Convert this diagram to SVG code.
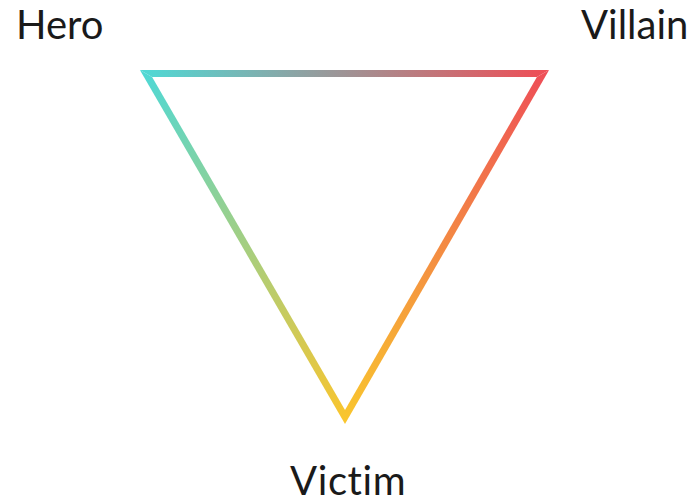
<svg xmlns="http://www.w3.org/2000/svg" width="696" height="504" viewBox="0 0 696 504">
<style>
.lbl{font-family:Lato,"Open Sans","Liberation Sans",sans-serif;font-size:40px;fill:#1a1a1a;font-variant-ligatures:none;font-feature-settings:"liga" 0;}
</style>
<defs>
<linearGradient id="gTop" gradientUnits="userSpaceOnUse" x1="146" y1="73" x2="543" y2="73">
<stop offset="0" stop-color="#50d8d4"/><stop offset="1" stop-color="#ee4f57"/>
</linearGradient>
<linearGradient id="gLeft" gradientUnits="userSpaceOnUse" x1="146" y1="73" x2="345" y2="417">
<stop offset="0" stop-color="#50d8d4"/><stop offset="1" stop-color="#f9c52e"/>
</linearGradient>
<linearGradient id="gRight" gradientUnits="userSpaceOnUse" x1="543" y1="73" x2="345" y2="417">
<stop offset="0" stop-color="#ee4f57"/><stop offset="1" stop-color="#f9c52e"/>
</linearGradient>
</defs>
<rect width="696" height="504" fill="#ffffff"/>
<g id="connectors">
<polygon points="139.9,70 549.1,70 536.9,77 152.1,77" fill="url(#gTop)"/>
<polygon points="139.9,70 152.1,77 345,410 345,424" fill="url(#gLeft)"/>
<polygon points="549.1,70 345,424 345,410 536.9,77" fill="url(#gRight)"/>
</g>
<g id="hero"><text class="lbl" x="16" y="39">Hero</text></g>
<g id="villain"><text class="lbl" x="581" y="39">Villain</text></g>
<g id="victim"><text class="lbl" x="290" y="495" letter-spacing="0.6">Victim</text></g>
</svg>
